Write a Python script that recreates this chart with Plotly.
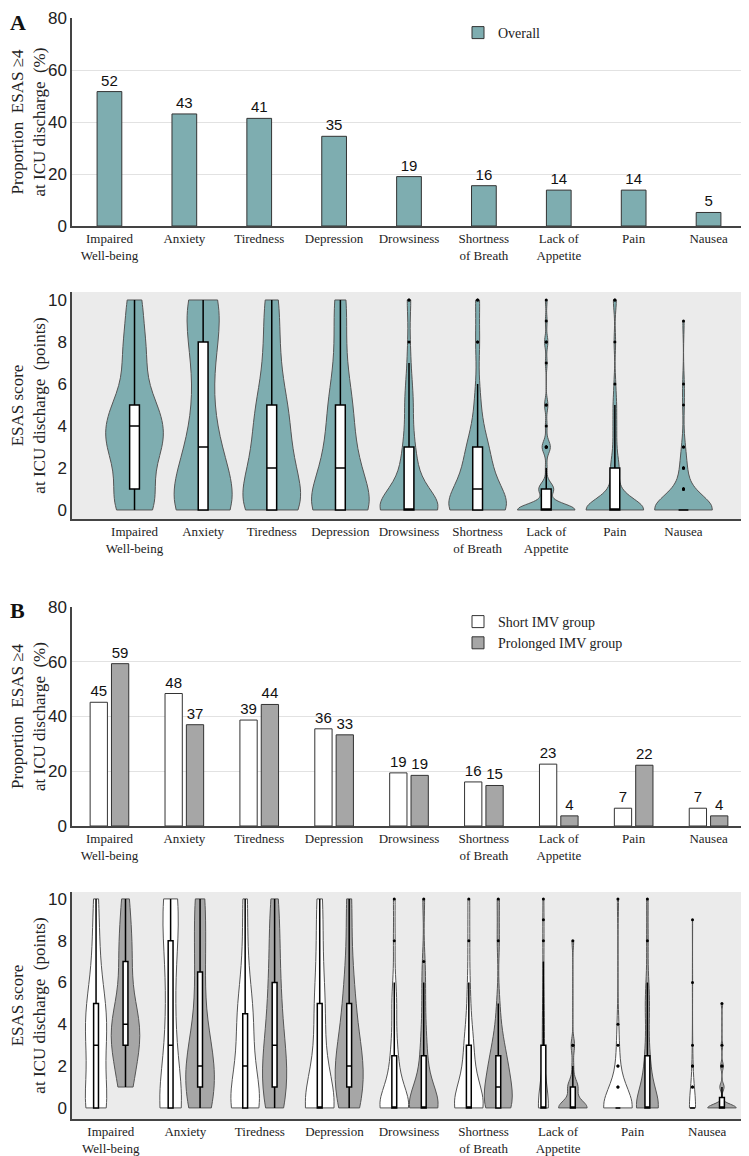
import numpy as np
import plotly.graph_objects as go

# categories (same order in every panel)
symptoms = [
    "Impaired<br>Well-being", "Anxiety", "Tiredness", "Depression", "Drowsiness",
    "Shortness<br>of Breath", "Lack of<br>Appetite", "Pain", "Nausea",
]

# proportion of patients with ESAS >= 4 at ICU discharge (%)
overall_pct = [51.7, 43.1, 41.4, 34.5, 19.0, 15.5, 13.8, 13.8, 5.2]
short_pct = [45.2, 48.4, 38.7, 35.5, 19.4, 16.1, 22.6, 6.5, 6.5]
prolonged_pct = [59.3, 37.0, 44.4, 33.3, 18.5, 14.8, 3.7, 22.2, 3.7]

# ESAS score scale and number of patients at each score (0..10), per symptom
scores = list(range(11))
short_counts = [
    [9, 2, 1, 5, 3, 5, 1, 1, 2, 0, 2],
    [12, 1, 1, 2, 1, 2, 1, 0, 4, 1, 6],
    [12, 2, 4, 1, 4, 3, 1, 1, 1, 0, 2],
    [16, 1, 2, 1, 2, 3, 1, 1, 1, 1, 2],
    [16, 4, 3, 2, 1, 2, 1, 0, 1, 0, 1],
    [16, 4, 2, 4, 1, 1, 1, 0, 1, 0, 1],
    [18, 3, 0, 3, 1, 2, 0, 1, 1, 1, 1],
    [24, 2, 2, 1, 1, 0, 0, 0, 0, 0, 1],
    [24, 2, 2, 1, 0, 0, 1, 0, 0, 1, 0],
]
prolonged_counts = [
    [0, 4, 1, 6, 5, 3, 0, 3, 2, 1, 2],
    [5, 4, 5, 3, 1, 1, 1, 2, 1, 1, 3],
    [4, 4, 4, 3, 2, 2, 2, 1, 2, 1, 2],
    [5, 4, 5, 4, 1, 3, 1, 1, 1, 0, 2],
    [14, 4, 2, 2, 1, 1, 1, 1, 0, 0, 1],
    [9, 6, 5, 3, 1, 1, 0, 0, 1, 0, 1],
    [17, 6, 1, 2, 0, 0, 0, 0, 1, 0, 0],
    [15, 2, 3, 1, 1, 2, 1, 0, 1, 0, 1],
    [20, 3, 2, 1, 0, 1, 0, 0, 0, 0, 0],
]

TEAL = "#7eadb0"
GREY = "#a6a6a6"
BG = "#ebebeb"
SERIF = "Liberation Serif"
SANS = "Liberation Sans"

# the page body has an 8px margin, so the figure is drawn 8px in from the window edge
OFF = 8
W, H = 749 - OFF, 1156 - OFF


def samples(counts):
    return np.repeat(scores, counts).astype(float)


def bw_nrd0(x):
    # same rule as R's default bandwidth
    hi = np.std(x, ddof=1)
    q1, q3 = np.percentile(x, [25, 75])
    lo = min(hi, (q3 - q1) / 1.34) or hi
    return 0.9 * lo * len(x) ** -0.2


def px(x):
    return (x - OFF) / W


def py(y):
    return 1 - (y - OFF) / H


def xdom():
    return [px(72), px(746)]


def ydom(top, bottom):
    return [py(bottom), py(top)]


violin_style = dict(
    line=dict(color="#555555", width=1),
    box=dict(visible=True, width=0.17, fillcolor="white", line=dict(color="black", width=1.5)),
    meanline=dict(visible=False),
    points="outliers",
    marker=dict(size=3, color="black", line=dict(width=0)),
    spanmode="hard",
    quartilemethod="inclusive",
    showlegend=False,
    hoverinfo="skip",
)
label_font = dict(family=SANS, size=15, color="#111111")

fig = go.Figure()

# A: bars
fig.add_trace(go.Bar(
    x=symptoms, y=overall_pct, name="Overall", legend="legend",
    marker=dict(color=TEAL, line=dict(color="#333333", width=1)), width=0.33,
    texttemplate="%{y:.0f}", textposition="outside", cliponaxis=False, textfont=label_font,
    xaxis="x", yaxis="y",
))

# A: violins (overall = both groups)
for i, sym in enumerate(symptoms):
    vals = np.concatenate([samples(short_counts[i]), samples(prolonged_counts[i])])
    fig.add_trace(go.Violin(
        x=[sym] * len(vals), y=vals, fillcolor=TEAL, bandwidth=bw_nrd0(vals),
        scalegroup=f"A{i}", scalemode="width", alignmentgroup="A", offsetgroup="A",
        width=0.84, xaxis="x2", yaxis="y2", **violin_style,
    ))

# B: bars
fig.add_trace(go.Bar(
    x=symptoms, y=short_pct, name="Short IMV group", legend="legend2",
    marker=dict(color="white", line=dict(color="#333333", width=1)),
    texttemplate="%{y:.0f}", textposition="outside", cliponaxis=False, textfont=label_font,
    xaxis="x3", yaxis="y3",
))
fig.add_trace(go.Bar(
    x=symptoms, y=prolonged_pct, name="Prolonged IMV group", legend="legend2",
    marker=dict(color=GREY, line=dict(color="#333333", width=1)),
    texttemplate="%{y:.0f}", textposition="outside", cliponaxis=False, textfont=label_font,
    xaxis="x3", yaxis="y3",
))

# B: violins per group
for i, sym in enumerate(symptoms):
    for grp, counts, color in (("short", short_counts, "white"), ("prolonged", prolonged_counts, GREY)):
        vals = samples(counts[i])
        fig.add_trace(go.Violin(
            x=[sym] * len(vals), y=vals, fillcolor=color, bandwidth=bw_nrd0(vals),
            scalegroup=f"B{i}", scalemode="width", alignmentgroup="B", offsetgroup=grp,
            xaxis="x4", yaxis="y4", **violin_style,
        ))

tick_x = dict(tickfont=dict(family=SERIF, size=13, color="#222222"), ticks="", automargin=False,
              showline=True, linecolor="#444444", linewidth=1.5, showgrid=False)
tick_y = dict(tickfont=dict(family=SANS, size=17, color="#222222"), ticks="", automargin=False,
              ticklabeloverflow="allow",
              showline=True, linecolor="#444444", linewidth=1.5, zeroline=False)
title_font = dict(family=SERIF, size=17, color="#222222")
bar_title = "Proportion  ESAS ≥4<br>at ICU discharge  (%)"
violin_title = "ESAS score<br>at ICU discharge  (points)"

fig.update_layout(
    width=W, height=H, margin=dict(l=0, r=0, t=0, b=0, autoexpand=False),
    paper_bgcolor="white", plot_bgcolor="rgba(0,0,0,0)",
    barmode="group", bargap=0.43, bargroupgap=0.19,
    violinmode="group", violingap=0.21, violingroupgap=0.03,
    xaxis=dict(domain=xdom(), anchor="y", **tick_x),
    yaxis=dict(domain=ydom(18, 226), anchor="x", range=[0, 80], dtick=20,
               showgrid=True, gridcolor="#e2e2e2",
               title=dict(text=bar_title, font=title_font, standoff=6), **tick_y),
    xaxis2=dict(domain=xdom(), anchor="y2", **tick_x),
    yaxis2=dict(domain=ydom(292, 519), anchor="x2", range=[-0.43, 10.38], dtick=2, showgrid=False,
                title=dict(text=violin_title, font=title_font, standoff=6), **tick_y),
    xaxis3=dict(domain=xdom(), anchor="y3", **tick_x),
    yaxis3=dict(domain=ydom(607, 826), anchor="x3", range=[0, 80], dtick=20,
                showgrid=True, gridcolor="#e2e2e2",
                title=dict(text=bar_title, font=title_font, standoff=6), **tick_y),
    xaxis4=dict(domain=xdom(), anchor="y4", **tick_x),
    yaxis4=dict(domain=ydom(892, 1119), anchor="x4", range=[-0.53, 10.33], dtick=2, showgrid=False,
                title=dict(text=violin_title, font=title_font, standoff=6), **tick_y),
    legend=dict(x=px(458), y=py(17), xanchor="left", yanchor="top",
                font=dict(family=SERIF, size=14, color="#222222"), bgcolor="rgba(0,0,0,0)"),
    legend2=dict(x=px(458), y=py(606), xanchor="left", yanchor="top",
                 font=dict(family=SERIF, size=14, color="#222222"), bgcolor="rgba(0,0,0,0)",
                 traceorder="normal"),
    shapes=[
        dict(type="rect", xref="x2 domain", yref="y2 domain", x0=0, x1=1, y0=0, y1=1,
             fillcolor=BG, line=dict(width=0), layer="below"),
        dict(type="rect", xref="x4 domain", yref="y4 domain", x0=0, x1=1, y0=0, y1=1,
             fillcolor=BG, line=dict(width=0), layer="below"),
    ],
    annotations=[
        dict(text="<b>A</b>", x=px(8), y=py(8), xref="paper", yref="paper", xanchor="left",
             yanchor="top", showarrow=False, font=dict(family=SERIF, size=22, color="#111111")),
        dict(text="<b>B</b>", x=px(8), y=py(596), xref="paper", yref="paper", xanchor="left",
             yanchor="top", showarrow=False, font=dict(family=SERIF, size=22, color="#111111")),
    ],
)

fig.write_html("out.html")
